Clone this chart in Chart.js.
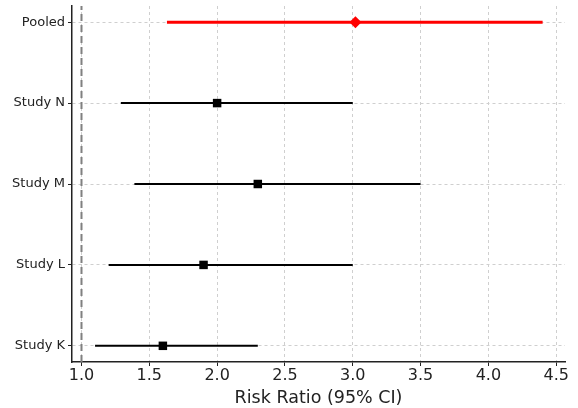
<!DOCTYPE html>
<html>
<head>
<meta charset="utf-8">
<script src="https://cdn.jsdelivr.net/npm/chart.js@4"></script>
<style>
  html, body { margin: 0; padding: 0; background: #fff; }
  #wrap { width: 578px; height: 408px; }
</style>
</head>
<body>
<div id="wrap"><canvas id="forest"></canvas></div>
<script>
// Studies from bottom (y = 0) to top
var studies = ['Study K', 'Study L', 'Study M', 'Study N', 'Pooled'];
var estimates = [1.6, 1.9, 2.3, 2.0, 3.02];
var lowerCI = [1.1, 1.2, 1.39, 1.29, 1.63];
var upperCI = [2.3, 3.0, 3.5, 3.0, 4.4];
var xTicks = [1.0, 1.5, 2.0, 2.5, 3.0, 3.5, 4.0, 4.5];
var nullValue = 1.0;

var pooledIndex = studies.indexOf('Pooled');
var textColor = '#222';

var datasets = [];

// null effect reference line
datasets.push({
  data: [{x: nullValue, y: -0.2}, {x: nullValue, y: 4.2}],
  showLine: true,
  borderColor: '#808080',
  borderWidth: 2,
  borderDash: [7, 4],
  pointRadius: 0
});

// confidence interval lines
studies.forEach(function(name, i) {
  var isPooled = i === pooledIndex;
  datasets.push({
    label: name,
    data: [{x: lowerCI[i], y: i}, {x: upperCI[i], y: i}],
    showLine: true,
    borderColor: isPooled ? '#ff0000' : '#000000',
    borderWidth: isPooled ? 3 : 2,
    pointRadius: 0
  });
});

// study point estimates
var studyPoints = [];
studies.forEach(function(name, i) {
  if (i !== pooledIndex) studyPoints.push({x: estimates[i], y: i});
});
datasets.push({
  data: studyPoints,
  pointStyle: 'rect',
  pointRadius: 6,
  backgroundColor: '#000',
  borderColor: '#000',
  borderWidth: 0
});

// pooled estimate
datasets.push({
  data: [{x: estimates[pooledIndex], y: pooledIndex}],
  pointStyle: 'rectRot',
  pointRadius: 6,
  backgroundColor: '#ff0000',
  borderColor: '#ff0000',
  borderWidth: 0
});

new Chart(document.getElementById('forest'), {
  type: 'scatter',
  data: { datasets: datasets },
  options: {
    responsive: true,
    maintainAspectRatio: false,
    animation: false,
    layout: { padding: { top: 5, right: 13, left: 0, bottom: 0 } },
    plugins: {
      legend: { display: false },
      tooltip: { enabled: false }
    },
    scales: {
      x: {
        type: 'linear',
        min: 0.93,
        max: 4.565,
        afterBuildTicks: function(scale) {
          scale.ticks = xTicks.map(function(v) { return {value: v}; });
        },
        afterFit: function(scale) {
          scale.height = 46;
          scale.paddingLeft = 0;
          scale.paddingRight = 0;
        },
        ticks: {
          callback: function(v) { return Number(v).toFixed(1); },
          font: { family: 'DejaVu Sans', size: 16 },
          color: textColor,
          padding: 0,
          maxRotation: 0
        },
        grid: {
          color: '#cfcfcf',
          lineWidth: 1,
          tickColor: textColor,
          tickLength: 4,
          tickWidth: 1
        },
        border: { color: textColor, width: 1.5, dash: [3, 3] },
        title: {
          display: true,
          text: 'Risk Ratio (95% CI)',
          font: { family: 'DejaVu Sans', size: 17.5 },
          color: textColor,
          padding: { top: 0, bottom: -1 }
        }
      },
      y: {
        type: 'linear',
        min: -0.2,
        max: 4.2,
        afterBuildTicks: function(scale) {
          scale.ticks = studies.map(function(s, i) { return {value: i}; });
        },
        afterFit: function(scale) {
          scale.width = 72;
          scale.paddingTop = 0;
          scale.paddingBottom = 0;
        },
        ticks: {
          callback: function(v) { return studies[v]; },
          font: { family: 'DejaVu Sans', size: 13 },
          color: textColor,
          padding: 3
        },
        grid: {
          color: '#cfcfcf',
          lineWidth: 1,
          tickColor: textColor,
          tickLength: 4,
          tickWidth: 1
        },
        border: { color: textColor, width: 1.5, dash: [3, 3] }
      }
    }
  }
});
</script>
</body>
</html>
